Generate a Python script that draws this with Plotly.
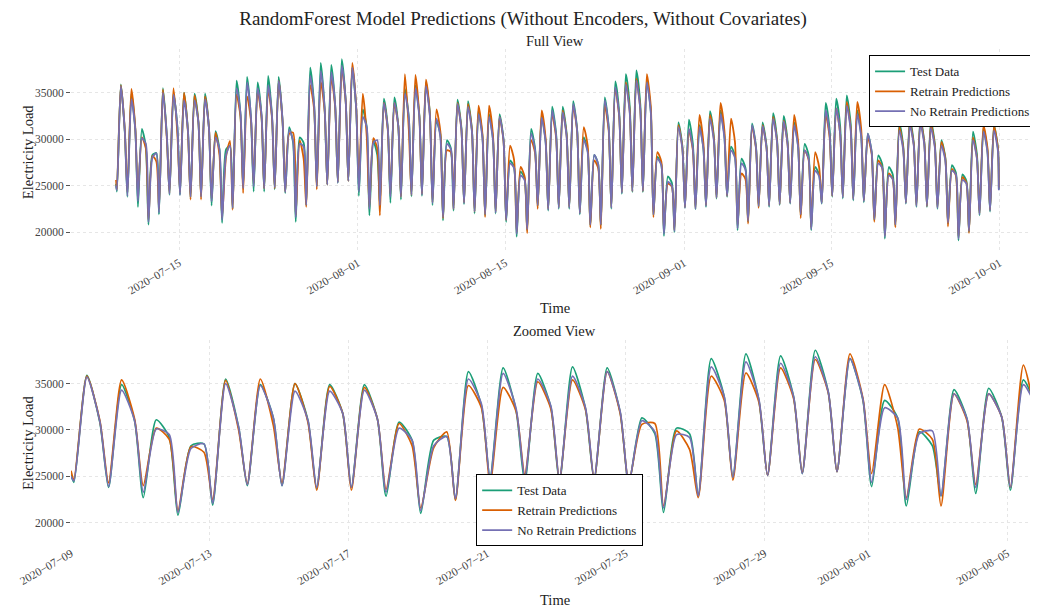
import pandas as pd
import plotly.graph_objects as go

# ---------------- data (MW), one value per day ----------------
START_DATE = "2020-07-09"

# daily minimum (early morning), daily maximum (late morning), evening shoulder
TEST_TROUGH = [24350, 23800, 22700, 20800, 21900, 24000, 24000,
               23700, 23800, 22850, 21000, 22500, 24900, 24350,
               24350, 24600, 24200, 21100, 22900, 24900, 25100,
               25300, 25500, 23900, 21800, 22900, 23150, 23500,
               23850, 23900, 22900, 21250, 22300, 23000, 22000,
               21800, 22000, 21100, 19500, 20200, 22800, 22300,
               22500, 22500, 21900, 20700, 20700, 22500, 24100,
               24300, 24300, 21800, 19600, 20000, 22600, 22450,
               22700, 23600, 23800, 20200, 21100, 22700, 22700,
               22900, 23050, 21800, 20200, 23050, 23800, 23600,
               23400, 23200, 21250, 19300, 20700, 23050, 22700,
               22700, 22500, 20900, 19100, 20000, 21800, 22200]
TEST_PEAK = [35900, 34900, 31100, 28300, 35500, 34900, 35000,
             34900, 34900, 30850, 28900, 36300, 36700, 36100,
             36800, 36700, 31300, 30200, 37700, 38200, 38000,
             38600, 37700, 33200, 29800, 34350, 34500, 35400,
             35800, 36100, 31900, 29900, 34250, 34100, 33100,
             32700, 32700, 27700, 26500, 31100, 32500, 33500,
             33500, 34100, 30200, 28300, 34500, 36200, 37000,
             37400, 36300, 28100, 26000, 31800, 32100, 31500,
             33000, 33100, 29200, 27900, 31700, 31800, 32800,
             32500, 31800, 29500, 27000, 33900, 34350, 34700,
             33100, 30600, 28250, 27000, 31700, 32200, 32300,
             32000, 29900, 27200, 26200, 30800, 31200, 31500]
TEST_EVE = [30800, 31000, 29200, 28500, 30300, 31300, 31000,
            31800, 31200, 28900, 29300, 32600, 32100, 32500,
            32300, 31900, 29600, 29600, 33600, 33200, 33600,
            34100, 33200, 31300, 28300, 31200, 31400, 32300,
            32600, 32800, 30500, 29000, 31200, 31000, 30300,
            30000, 30000, 27000, 25800, 29000, 29800, 30600,
            30600, 31000, 28800, 27300, 31300, 32800, 33500,
            33800, 33000, 27300, 25300, 29300, 29500, 29000,
            30200, 30300, 28200, 26900, 29200, 29300, 30000,
            29800, 29300, 28300, 26200, 31000, 31400, 31700,
            30400, 28600, 27300, 26200, 29200, 29600, 29700,
            29500, 28000, 26400, 25500, 28400, 28800, 29000]

RETRAIN_TROUGH = [24600, 24300, 24000, 21300, 22500, 24200, 24300,
                  23500, 23500, 23600, 21600, 22400, 24200, 25200,
                  24700, 24700, 24350, 21800, 22700, 24600, 25100,
                  25400, 25500, 25300, 22700, 21800, 24100, 23800,
                  24000, 24100, 23200, 21500, 22500, 23200, 22200,
                  21600, 22200, 21300, 20000, 19900, 22500, 22500,
                  22700, 22700, 22100, 20500, 20350, 22700, 24300,
                  24400, 24400, 21600, 20200, 20200, 22700, 22600,
                  22900, 23700, 23900, 20800, 20900, 22600, 22900,
                  23000, 23200, 21500, 20500, 23200, 23900, 23800,
                  23600, 23400, 21100, 19700, 20500, 23200, 22900,
                  22800, 22700, 20600, 19500, 19900, 22000, 22400]
RETRAIN_PEAK = [35800, 35400, 30200, 28200, 35350, 35500, 35000,
                34700, 34600, 30700, 28100, 34800, 34600, 35200,
                35400, 36300, 30600, 29900, 35800, 36150, 36700,
                37600, 38200, 34900, 30100, 33900, 33900, 37000,
                36900, 36400, 33200, 28800, 33900, 33800, 33600,
                33600, 32400, 29300, 27000, 29900, 33100, 32600,
                33100, 33600, 31300, 27700, 33600, 35400, 36100,
                36500, 37000, 28600, 25200, 31500, 30900, 32600,
                32600, 33900, 32200, 26300, 31300, 31500, 32400,
                32000, 32600, 28800, 28600, 32700, 33300, 34000,
                34000, 30200, 27700, 26300, 31300, 31800, 32000,
                31600, 29700, 26800, 25900, 30200, 31500, 31400]
RETRAIN_EVE = [31000, 31200, 29000, 27600, 30000, 30500, 30800,
               31800, 31200, 28300, 29800, 32400, 32000, 32300,
               32200, 31800, 30700, 27900, 33200, 33000, 33400,
               34000, 33400, 30300, 29000, 31000, 31400, 31000,
               32400, 32600, 30800, 28600, 31000, 30900, 30500,
               30400, 29800, 27800, 26000, 28500, 30100, 30200,
               30400, 30800, 29300, 26900, 30900, 32400, 33000,
               33300, 33500, 27600, 24900, 29100, 28800, 29600,
               30000, 30900, 29700, 25700, 29000, 29100, 29800,
               29500, 29800, 27800, 27000, 30200, 30600, 31200,
               31100, 28400, 26900, 25700, 29000, 29400, 29600,
               29300, 27900, 26100, 25300, 28000, 29100, 29000]

NORETRAIN_TROUGH = [24500, 23900, 23300, 21100, 22100, 24100, 24000,
                    23800, 23800, 23300, 21300, 22600, 24700, 24900,
                    24700, 24800, 24300, 21600, 22900, 24900, 25100,
                    25300, 25500, 24350, 22500, 22900, 23800, 23800,
                    24000, 24000, 23100, 21600, 22500, 23100, 22200,
                    21900, 22100, 21300, 19800, 20300, 22900, 22400,
                    22600, 22600, 22000, 20800, 20800, 22600, 24200,
                    24400, 24400, 21900, 19800, 20100, 22600, 22500,
                    22800, 23700, 23900, 20400, 21200, 22800, 22800,
                    23000, 23100, 21900, 20300, 23100, 23900, 23700,
                    23500, 23300, 21400, 19500, 20800, 23100, 22800,
                    22800, 22600, 21000, 19300, 20100, 21900, 22300]
NORETRAIN_PEAK = [35700, 34300, 30100, 28000, 35000, 34800, 34200,
                  34200, 34300, 30200, 28300, 35500, 36100, 35500,
                  35800, 36300, 31000, 29500, 36800, 37350, 37200,
                  37900, 37700, 32400, 29600, 33900, 33900, 34900,
                  35500, 35700, 32200, 29500, 33800, 33500, 32700,
                  32400, 32400, 27400, 26100, 30600, 32300, 33100,
                  32900, 33800, 29900, 28300, 34200, 35600, 35900,
                  36300, 36100, 27900, 25400, 31300, 31100, 31300,
                  32200, 32700, 28800, 27400, 31500, 31400, 32200,
                  31900, 31500, 28800, 26600, 33100, 33300, 33600,
                  32700, 30600, 27400, 26100, 30900, 31500, 31700,
                  31200, 29300, 26600, 25600, 29900, 30800, 30900]
NORETRAIN_EVE = [30900, 31000, 29500, 28500, 30300, 31300, 31000,
                 31800, 31200, 28900, 29300, 32800, 32300, 32600,
                 32400, 32000, 29800, 29200, 33600, 33300, 33600,
                 34100, 33300, 31300, 29900, 31200, 31400, 32300,
                 32400, 32500, 30200, 28900, 31000, 30800, 30100,
                 29900, 29900, 26900, 25600, 28800, 29700, 30400,
                 30300, 30900, 28600, 27300, 31200, 32500, 32800,
                 33200, 32900, 27200, 25000, 29000, 29000, 29000,
                 29800, 30100, 28000, 26700, 29100, 29100, 29700,
                 29500, 29200, 27900, 26000, 30500, 30600, 31000,
                 30300, 28600, 26900, 25700, 28800, 29300, 29400,
                 29100, 27700, 26200, 25200, 27900, 28600, 28700]

# first value (07-09 00:00) and last value (09-30 22:00)
START_VALUES = {"test": 25200, "retrain": 25600, "noretrain": 25000}
END_VALUES = {"test": 24600, "retrain": 24800, "noretrain": 24500}

FULL_TICKS = ["2020-07-15", "2020-08-01", "2020-08-15", "2020-09-01", "2020-09-15", "2020-10-01"]
ZOOM_TICKS = ["2020-07-09", "2020-07-13", "2020-07-17", "2020-07-21", "2020-07-25",
              "2020-07-29", "2020-08-01", "2020-08-05"]
Y_TICKS = [20000, 25000, 30000, 35000]

for arr in [TEST_TROUGH, TEST_PEAK, TEST_EVE, RETRAIN_TROUGH, RETRAIN_PEAK, RETRAIN_EVE,
            NORETRAIN_TROUGH, NORETRAIN_PEAK, NORETRAIN_EVE]:
    assert len(arr) == 84, len(arr)

# ---------------- build the series ----------------
base = pd.Timestamp(START_DATE)
HOURS = (2, 11, 20)


def build(trough, peak, eve, v0, v1):
    xs, ys = [base], [v0]
    for d in range(len(peak)):
        day = base + pd.Timedelta(days=d)
        for h, v in zip(HOURS, (trough[d], peak[d], eve[d])):
            xs.append(day + pd.Timedelta(hours=h))
            ys.append(v)
    xs.append(base + pd.Timedelta(days=len(peak) - 1, hours=22))
    ys.append(v1)
    return xs, ys


SERIES = [
    ("Test Data", "#1b9e77", build(TEST_TROUGH, TEST_PEAK, TEST_EVE,
                                   START_VALUES["test"], END_VALUES["test"])),
    ("Retrain Predictions", "#d95f02", build(RETRAIN_TROUGH, RETRAIN_PEAK, RETRAIN_EVE,
                                             START_VALUES["retrain"], END_VALUES["retrain"])),
    ("No Retrain Predictions", "#7570b3", build(NORETRAIN_TROUGH, NORETRAIN_PEAK, NORETRAIN_EVE,
                                                START_VALUES["noretrain"], END_VALUES["noretrain"])),
]

FONT = "Liberation Serif"
fig = go.Figure()
for name, color, (xs, ys) in SERIES:
    fig.add_trace(go.Scatter(x=xs, y=ys, name=name, mode="lines", xaxis="x", yaxis="y",
                             line=dict(color=color, width=1.8, shape="spline", smoothing=0.65),
                             legend="legend"))
for name, color, (xs, ys) in SERIES:
    fig.add_trace(go.Scatter(x=xs, y=ys, name=name, mode="lines", xaxis="x2", yaxis="y2",
                             line=dict(color=color, width=1.7, shape="spline", smoothing=0.65),
                             legend="legend2"))


def tick_text(dates):
    return [d.replace("-", "\u2212") for d in dates]


grid = dict(showgrid=True, gridcolor="#e6e6e6", griddash="dot", gridwidth=0.9,
            zeroline=False, showline=False)
tickfont = dict(family=FONT, size=11.5, color="#444")

full_range = [base - pd.Timedelta(hours=4.28 * 24), base + pd.Timedelta(hours=87.64 * 24)]
zoom_range = [base, base + pd.Timedelta(hours=27.88 * 24)]

legend_common = dict(bordercolor="black", borderwidth=1, bgcolor="white",
                     font=dict(family=FONT, size=13, color="#222"),
                     itemwidth=30, tracegroupgap=0)

# the page body has an 8px default margin: the figure is drawn 8px right/down,
# so it is sized 1030x600 and its margins reduced by 8px to land the plot areas in place.
fig.update_layout(
    width=1030, height=600,
    margin=dict(l=63, r=0, t=40.6, b=64.4, autoexpand=False),
    paper_bgcolor="white", plot_bgcolor="white",
    font=dict(family=FONT, color="#222"),
    title=dict(text="RandomForest Model Predictions (Without Encoders, Without Covariates)",
               x=0.5, xanchor="center", y=0.983, yanchor="middle",
               font=dict(family=FONT, size=19, color="#222")),
    xaxis=dict(domain=[0, 1], anchor="y", range=full_range,
               tickvals=FULL_TICKS, ticktext=tick_text(FULL_TICKS),
               tickangle=-30, tickfont=tickfont, **grid),
    yaxis=dict(domain=[0.587, 1], anchor="x", range=[17700, 39700], tickvals=Y_TICKS,
               tickformat="d", ticks="outside", ticklen=4, tickcolor="#555",
               tickfont=tickfont, **grid),
    xaxis2=dict(domain=[0, 1], anchor="y2", range=zoom_range,
                tickvals=ZOOM_TICKS, ticktext=tick_text(ZOOM_TICKS),
                tickangle=-30, tickfont=tickfont, **grid),
    yaxis2=dict(domain=[0, 0.412], anchor="x2", range=[17700, 39700], tickvals=Y_TICKS,
                tickformat="d", ticks="outside", ticklen=4, tickcolor="#555",
                tickfont=tickfont, **grid),
    legend=dict(x=0.998, xanchor="right", y=0.987, yanchor="top", **legend_common),
    legend2=dict(x=0.419, xanchor="left", y=0.068, yanchor="middle", **legend_common),
    showlegend=True,
)

label_font = dict(family=FONT, size=14.5, color="#222")
annotations = [
    dict(text="Full View", x=0.5, y=1.017, xref="paper", yref="paper",
         xanchor="center", yanchor="middle", showarrow=False, font=label_font),
    dict(text="Zoomed View", x=0.5, y=0.4295, xref="paper", yref="paper",
         xanchor="center", yanchor="middle", showarrow=False, font=label_font),
    dict(text="Time", x=0.5, y=0.476, xref="paper", yref="paper",
         xanchor="center", yanchor="middle", showarrow=False, font=label_font),
    dict(text="Time", x=0.5, y=-0.114, xref="paper", yref="paper",
         xanchor="center", yanchor="middle", showarrow=False, font=label_font),
    dict(text="Electricity Load", x=-0.0445, y=0.7935, xref="paper", yref="paper",
         xanchor="center", yanchor="middle", textangle=-90, showarrow=False, font=label_font),
    dict(text="Electricity Load", x=-0.0445, y=0.206, xref="paper", yref="paper",
         xanchor="center", yanchor="middle", textangle=-90, showarrow=False, font=label_font),
]
fig.update_layout(annotations=annotations)

fig.write_html("out.html")
